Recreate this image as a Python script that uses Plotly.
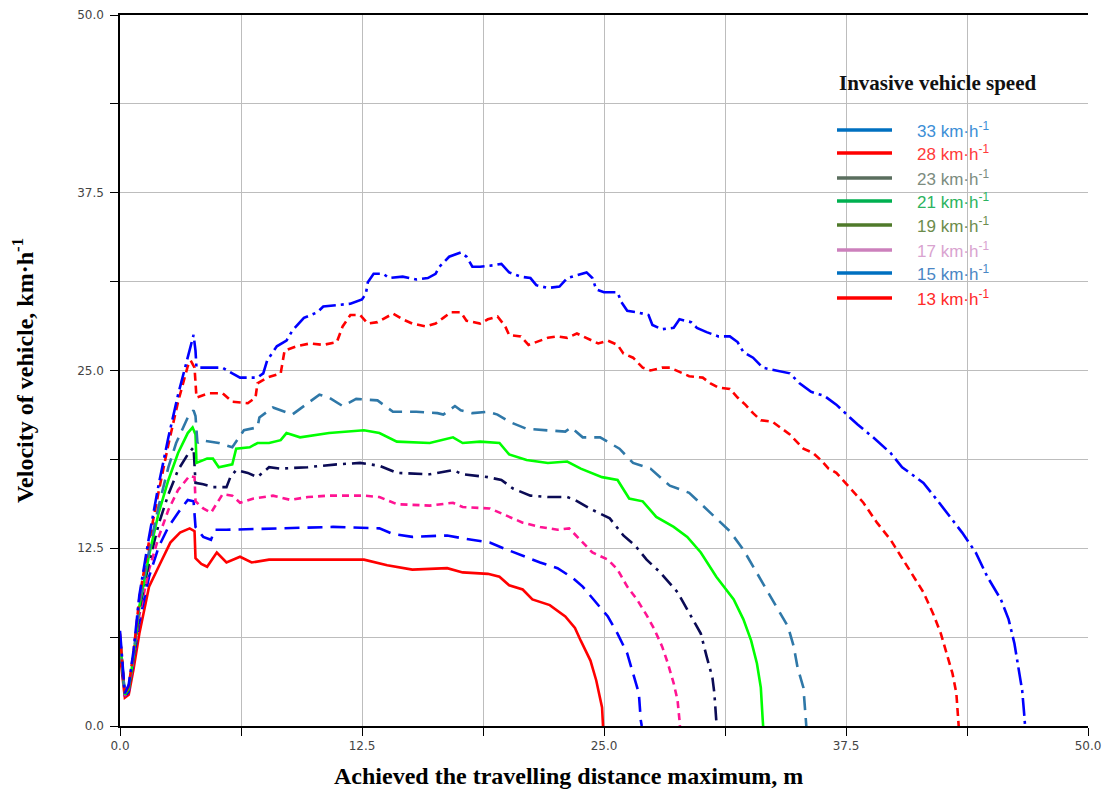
import plotly.graph_objects as go

# ---------------- data (distance m, velocity km/h) ----------------
x33 = [0, 0.25, 0.45, 0.7, 1.0, 1.5, 2.0, 2.5, 3.0, 3.5, 3.8, 3.9, 3.95, 4.6, 5.3, 5.8, 6.2, 7.1, 7.4, 7.6, 8.1, 8.6, 8.9, 9.5,
       10.2, 10.5, 11.2, 11.9, 12.5, 12.7, 12.8, 13.1, 13.6, 13.9, 14.6, 15.3, 15.9, 16.3, 16.5, 17.0, 17.6, 17.9, 18.2,
       18.6, 19.3, 19.7, 20.1, 20.7, 21.2, 21.5, 22.1, 22.7, 23.1, 23.6, 24.1, 24.4, 24.6, 25.0, 25.7, 25.9, 26.2, 26.7,
       27.3, 27.5, 28.0, 28.6, 28.9, 29.5, 29.8, 30.3, 30.9, 31.5, 31.9, 32.2, 32.7, 33.2, 33.9, 34.6, 35.1, 35.7, 36.4,
       37.0, 37.7, 38.1, 38.9, 39.8, 40.4, 40.9, 41.5, 42.2, 42.9, 43.5, 44.2, 44.8, 45.5, 45.9, 46.2, 46.4, 46.6, 46.7, 46.75]
y33 = [6.7, 2.3, 2.9, 5.3, 9.2, 13.3, 17.0, 20.3, 23.3, 26.0, 27.5, 26.4, 25.2, 25.2, 25.2, 24.8, 24.5, 24.5, 24.8, 25.7,
       26.7, 27.1, 27.8, 28.7, 29.1, 29.5, 29.6, 29.7, 30.0, 30.4, 31.2, 31.8, 31.8, 31.5, 31.6, 31.4, 31.5, 31.8, 32.3,
       33.0, 33.3, 33.0, 32.3, 32.3, 32.4, 32.5, 31.9, 31.6, 31.5, 31.0, 30.8, 30.9, 31.5, 31.7, 31.9, 31.5, 30.7, 30.5,
       30.5, 29.8, 29.2, 29.1, 28.9, 28.2, 27.9, 28.0, 28.6, 28.4, 28.0, 27.7, 27.4, 27.4, 27.0, 26.3, 25.9, 25.2, 25.0,
       24.8, 24.1, 23.5, 23.2, 22.6, 21.7, 21.2, 20.3, 19.2, 18.2, 17.7, 17.1, 15.9, 14.7, 13.6, 12.2, 10.5, 8.9, 7.5,
       5.8, 4.1, 2.5, 0.9, 0.0]

x28 = [0, 0.25, 0.45, 0.7, 1.0, 1.5, 2.0, 2.5, 3.0, 3.5, 3.65, 3.85, 3.95, 4.6, 5.3, 5.8, 6.6, 7.0, 7.1, 7.6, 8.3, 8.5, 9.1,
       9.8, 10.5, 11.2, 11.5, 11.9, 12.4, 12.8, 13.3, 14.1, 14.6, 15.1, 15.8, 16.3, 16.7, 17.1, 17.6, 17.9, 18.6, 19.0,
       19.5, 19.9, 20.1, 20.7, 21.1, 21.5, 22.1, 22.6, 23.1, 23.6, 24.1, 24.7, 25.2, 25.7, 26.0, 26.5, 27.0, 27.4, 28.0,
       28.4, 28.9, 29.4, 30.1, 30.5, 30.9, 31.5, 31.9, 32.3, 32.7, 33.1, 33.7, 34.1, 34.6, 35.3, 35.8, 36.2, 36.6, 37.0,
       37.4, 37.8, 38.4, 39.1, 39.8, 40.4, 41.0, 41.5, 42.0, 42.4, 42.7, 43.0, 43.2, 43.3, 43.32]
y28 = [6.5, 2.2, 2.8, 5.2, 9.0, 13.0, 16.5, 19.8, 22.8, 25.3, 25.7, 25.2, 23.1, 23.4, 23.4, 22.8, 22.7, 23.1, 24.1, 24.5,
       24.8, 26.4, 26.7, 26.9, 26.8, 27.0, 28.1, 28.9, 28.9, 28.3, 28.4, 29.0, 28.6, 28.3, 28.1, 28.3, 28.7, 29.1, 29.1,
       28.5, 28.3, 28.6, 28.8, 28.1, 27.5, 27.4, 26.8, 27.0, 27.3, 27.4, 27.3, 27.6, 27.3, 26.9, 27.1, 26.8, 26.2, 25.9,
       25.2, 25.0, 25.2, 25.2, 24.9, 24.6, 24.5, 24.1, 23.8, 23.7, 23.1, 22.6, 22.0, 21.5, 21.4, 21.0, 20.5, 19.5, 19.2,
       18.7, 18.1, 17.8, 17.2, 16.6, 15.7, 14.3, 13.1, 11.8, 10.5, 9.4, 7.9, 6.5, 5.1, 3.7, 2.3, 0.4, 0.0]

x23 = [0, 0.25, 0.45, 0.7, 1.0, 1.5, 2.0, 2.5, 2.9, 3.5, 3.8, 3.9, 4.0, 4.2, 5.1, 5.8, 6.4, 7.1, 7.2, 7.9, 8.9, 9.7, 10.3,
       10.8, 11.5, 12.2, 13.3, 14.1, 15.3, 16.4, 16.7, 17.3, 17.6, 18.2, 19.0, 19.5, 20.1, 21.0, 23.0, 23.3, 23.9, 24.8,
       25.2, 25.8, 26.5, 27.4, 28.4, 29.4, 30.1, 30.8, 31.5, 32.2, 32.7, 33.3, 33.9, 34.5, 34.8, 35.0, 35.3, 35.4, 35.45]
y23 = [6.3, 2.2, 2.7, 5.0, 8.6, 12.3, 15.5, 18.2, 19.9, 21.7, 22.2, 21.8, 19.9, 20.1, 19.9, 19.6, 20.8, 21.0, 21.7, 22.4,
       21.9, 22.7, 23.3, 23.1, 22.5, 23.0, 22.9, 22.1, 22.1, 22.0, 21.9, 22.5, 22.2, 22.0, 22.1, 21.9, 21.4, 20.9, 20.7,
       21.0, 20.3, 20.3, 20.0, 19.5, 18.5, 18.1, 16.9, 16.4, 15.5, 14.6, 13.7, 12.4, 11.2, 9.8, 8.4, 7.0, 5.6, 4.1, 2.7,
       0.9, 0.0]

x21 = [0, 0.25, 0.45, 0.7, 1.0, 1.5, 2.0, 2.5, 3.0, 3.5, 3.75, 3.9, 3.95, 4.5, 4.8, 5.1, 5.8, 6.0, 6.7, 7.1, 7.7, 8.3, 8.6,
       9.3, 10.8, 12.6, 13.4, 14.3, 16.0, 17.2, 17.7, 18.6, 19.6, 20.1, 21.0, 22.1, 23.1, 23.8, 24.9, 25.7, 26.3, 27.0,
       27.7, 28.6, 29.3, 30.0, 30.8, 31.7, 32.2, 32.6, 32.9, 33.1, 33.2, 33.22]
y21 = [6.2, 2.2, 2.6, 4.9, 8.4, 12.0, 15.0, 17.3, 19.2, 20.6, 21.0, 20.5, 18.5, 18.8, 18.8, 18.2, 18.4, 19.5, 19.6, 19.9,
       19.9, 20.1, 20.6, 20.3, 20.6, 20.8, 20.6, 20.0, 19.9, 20.3, 19.9, 20.0, 19.9, 19.1, 18.7, 18.5, 18.6, 18.1, 17.5,
       17.3, 16.0, 15.8, 14.7, 14.0, 13.3, 12.2, 10.5, 8.9, 7.5, 6.0, 4.4, 2.7, 0.4, 0.0]

x19 = [0, 0.25, 0.45, 0.7, 1.0, 1.5, 2.0, 2.5, 3.0, 3.5, 3.8, 3.9, 4.3, 4.8, 5.5, 5.7, 6.0, 6.6, 7.1, 7.7, 8.3, 9.7, 11.2,
       12.4, 13.4, 14.3, 16.0, 17.2, 17.7, 19.0, 19.7, 20.3, 21.2, 22.1, 23.1, 23.5, 24.4, 25.3, 26.0, 26.6, 27.2, 27.9,
       28.8, 29.4, 30.0, 30.3, 30.6, 30.7, 30.8, 30.82]
y19 = [6.0, 2.2, 2.6, 4.8, 8.2, 11.5, 14.2, 16.3, 18.0, 19.1, 19.6, 17.1, 17.0, 16.8, 16.8, 17.5, 18.0, 17.8, 17.5, 18.2,
       18.1, 18.2, 18.4, 18.5, 18.3, 17.8, 17.7, 18.0, 17.7, 17.5, 17.3, 16.7, 16.2, 16.1, 16.1, 15.9, 15.2, 14.6, 13.4,
       12.7, 11.7, 10.8, 9.4, 7.9, 6.5, 4.9, 3.4, 2.3, 0.4, 0.0]

x17 = [0, 0.25, 0.45, 0.7, 1.0, 1.5, 2.0, 2.5, 3.0, 3.6, 3.85, 3.9, 4.3, 4.7, 5.3, 5.8, 6.2, 6.9, 7.9, 8.8, 9.7, 10.8,
       12.6, 13.4, 14.3, 16.0, 17.2, 17.7, 19.1, 20.0, 20.8, 21.7, 22.6, 23.2, 23.7, 24.4, 25.2, 25.7, 26.2, 26.7, 27.2,
       27.6, 28.0, 28.3, 28.6, 28.8, 28.9, 28.92]
y17 = [5.8, 2.1, 2.5, 4.7, 7.8, 11.0, 13.3, 15.2, 16.6, 17.6, 17.5, 15.8, 15.3, 15.0, 16.3, 16.2, 15.7, 16.0, 16.2, 15.9,
       16.1, 16.2, 16.2, 16.1, 15.6, 15.5, 15.7, 15.4, 15.3, 14.8, 14.3, 14.0, 13.8, 13.9, 13.2, 12.2, 11.7, 11.0, 9.8,
       8.9, 7.8, 6.8, 5.6, 4.4, 3.0, 1.8, 0.4, 0.0]

x15 = [0, 0.25, 0.45, 0.7, 1.0, 1.5, 2.0, 2.5, 3.0, 3.5, 3.8, 3.9, 4.3, 4.7, 4.9, 5.5, 8.3, 11.0, 13.4, 14.1, 15.1, 16.9,
       17.7, 19.1, 19.8, 20.7, 21.7, 22.6, 23.4, 23.9, 24.6, 25.2, 25.7, 26.2, 26.5, 26.8, 26.9, 26.95]
y15 = [5.5, 2.1, 2.4, 4.5, 7.3, 10.5, 12.6, 14.0, 15.0, 15.9, 15.8, 14.0, 13.3, 13.1, 13.8, 13.8, 13.9, 14.0, 13.9, 13.5,
       13.3, 13.4, 13.2, 12.9, 12.5, 12.0, 11.5, 11.1, 10.4, 9.8, 8.7, 7.7, 6.5, 5.1, 3.7, 2.3, 0.4, 0.0]

x13 = [0, 0.25, 0.45, 0.7, 1.0, 1.5, 2.1, 2.6, 3.1, 3.6, 3.85, 3.9, 4.2, 4.5, 5.0, 5.5, 6.2, 6.8, 7.7, 10.0, 12.6, 13.8,
       15.1, 16.9, 17.7, 19.0, 19.6, 20.1, 20.8, 21.3, 22.2, 23.0, 23.5, 23.8, 24.3, 24.6, 24.9, 24.95]
y13 = [5.0, 2.0, 2.2, 4.0, 6.5, 9.8, 11.5, 12.9, 13.6, 13.9, 13.7, 11.8, 11.4, 11.2, 12.2, 11.5, 11.9, 11.5, 11.7, 11.7,
       11.7, 11.3, 11.0, 11.1, 10.8, 10.7, 10.5, 9.9, 9.6, 8.9, 8.5, 7.7, 6.9, 6.0, 4.6, 3.2, 1.3, 0.0]

speeds = ["33", "28", "23", "21", "19", "17", "15", "13"]
trace_colors = ["#0000FF", "#FF0000", "#2F78A8", "#00FF00", "#0B0B55", "#FF1493", "#0000FF", "#FF0000"]
trace_dashes = ["18px,5px,3px,5px", "8px,5px", "14px,8px", "solid", "14px,6px,3px,6px", "7px,5px", "15px,8px", "solid"]
legend_line_colors = ["#0070C0", "#FF0000", "#5A6E5E", "#00B050", "#4F7A2A", "#CC80BC", "#0070C0", "#FF0000"]
legend_text_colors = ["#3C8ED6", "#FF3A3A", "#7C8C80", "#2CB360", "#6C8C4C", "#D9A3D0", "#4A86C4", "#FF2A2A"]

xs_all = [x33, x28, x23, x21, x19, x17, x15, x13]
ys_all = [y33, y28, y23, y21, y19, y17, y15, y13]

major_ticks = [0, 12.5, 25, 37.5, 50]
major_ticktext = ["0.0", "12.5", "25.0", "37.5", "50.0"]
minor_ticks = [6.25, 18.75, 31.25, 43.75]

# ---------------- figure ----------------
W, H = 1109, 794
L, R, T, B = 120, 21, 15, 68

def xp(px):
    return (px - L) / (W - L - R)

def yp(py):
    return (H - B - py) / (H - T - B)

fig = go.Figure()
order = [7, 6, 5, 4, 3, 2, 1, 0]
for i in order:
    fig.add_trace(go.Scatter(
        x=xs_all[i], y=ys_all[i], mode="lines",
        name=speeds[i] + " km/h",
        line=dict(color=trace_colors[i], width=2.6, dash=trace_dashes[i]),
        showlegend=False, hoverinfo="x+y+name"))

shapes = [dict(type="rect", xref="paper", yref="paper", x0=xp(804), x1=xp(1059), y0=yp(342), y1=yp(41),
               fillcolor="white", line=dict(width=0), layer="between")]
annotations = [
    dict(xref="paper", yref="paper", x=xp(937), y=yp(83), text="Invasive vehicle speed",
         showarrow=False, xanchor="center", yanchor="middle",
         font=dict(family="Liberation Serif", size=21, color="#111111", weight="bold")),
    dict(xref="paper", yref="paper", x=xp(568), y=yp(776), text="Achieved the travelling distance maximum, m",
         showarrow=False, xanchor="center", yanchor="middle",
         font=dict(family="Liberation Serif", size=24, color="black", weight="bold")),
]
legend_y = [130, 153, 178, 201, 225, 250, 273, 298]
for i, s in enumerate(speeds):
    shapes.append(dict(type="line", xref="paper", yref="paper", x0=xp(837), x1=xp(892),
                       y0=yp(legend_y[i]), y1=yp(legend_y[i]),
                       line=dict(color=legend_line_colors[i], width=3.5), layer="above"))
    annotations.append(dict(xref="paper", yref="paper", x=xp(915), y=yp(legend_y[i]),
                            text=s + " km·h<sup>-1</sup>", showarrow=False, xanchor="left", yanchor="middle",
                            font=dict(family="Liberation Sans", size=17, color=legend_text_colors[i])))

axis_common = dict(range=[0, 50], showgrid=True, gridcolor="#BDBDBD", gridwidth=1, zeroline=False,
                   showline=True, linecolor="black", linewidth=1.5, ticks="outside", ticklen=8,
                   tickcolor="black", tickwidth=1.2, tickmode="array",
                   tickvals=major_ticks, ticktext=major_ticktext,
                   minor=dict(tickvals=minor_ticks, ticks="outside", ticklen=8, tickcolor="black",
                              tickwidth=1.2, showgrid=True, gridcolor="#BDBDBD", gridwidth=1),
                   tickfont=dict(family="DejaVu Sans", size=12, color="#444444"))

fig.update_layout(
    width=W, height=H, margin=dict(l=L, r=R, t=T, b=B, autoexpand=False),
    paper_bgcolor="white", plot_bgcolor="white", showlegend=False,
    shapes=shapes, annotations=annotations,
    xaxis=dict(axis_common, mirror=True),
    yaxis=dict(axis_common, ticklabelstandoff=4,
               title=dict(text="Velocity of vehicle, km·h<sup>-1</sup>", standoff=37,
                          font=dict(family="Liberation Serif", size=24, color="black", weight="bold"))),
)

fig.write_html("out.html", config={"displayModeBar": False},
               post_script="document.body.style.margin='0';document.body.style.overflow='hidden';")
